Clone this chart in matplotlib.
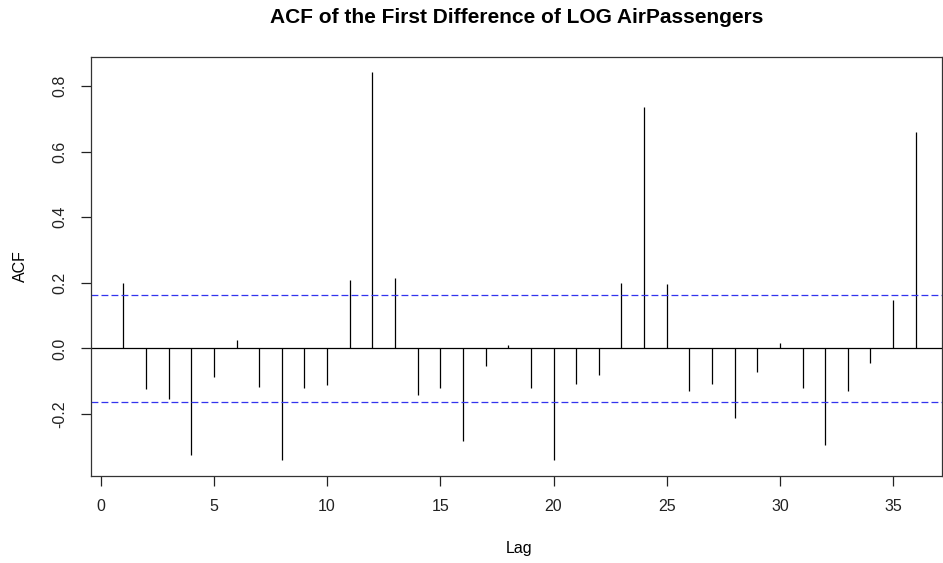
# ACF plot of the first difference of log AirPassengers, R style
import matplotlib.pyplot as plt

# lags 1..36 and the autocorrelation
lags = list(range(1, 37))
acf = [0.200, -0.123, -0.155, -0.324, -0.087, 0.027, -0.117, -0.341, -0.120, -0.113,
       0.207, 0.841, 0.216, -0.142, -0.120, -0.282, -0.054, 0.011, -0.120, -0.341,
       -0.110, -0.080, 0.200, 0.737, 0.196, -0.129, -0.107, -0.213, -0.071, 0.015,
       -0.120, -0.293, -0.129, -0.044, 0.147, 0.659]
conf_band = 0.1635
x_ticks = [0, 5, 10, 15, 20, 25, 30, 35]
y_ticks = [-0.2, 0.0, 0.2, 0.4, 0.6, 0.8]

plt.rcParams['font.family'] = ['Liberation Sans', 'DejaVu Sans']

W, H = 943, 563
fig = plt.figure(figsize=(W / 100, H / 100), dpi=100)
ax = fig.add_axes([91 / W, 1 - 475.7 / H, (942 - 91) / W, (475.7 - 56.7) / H])

# the spikes
ax.vlines(lags, 0, acf, color='black', linewidth=0.9)
ax.axhline(0, color='black', linewidth=0.9)

# confidence bounds
for b in (conf_band, -conf_band):
    ln = ax.axhline(b, color='#3333ee', linewidth=0.9)
    ln.set_dashes([5.5, 2.5])

ax.set_xlim(-0.43, 37.16)
ax.set_ylim(-0.388, 0.889)

ax.set_xticks(x_ticks)
ax.set_xticklabels([str(t) for t in x_ticks])
ax.set_yticks(y_ticks)
ax.set_yticklabels(['%.1f' % t for t in y_ticks], rotation=90, va='center')

ax.tick_params(direction='out', length=7, width=0.9, colors='#222222',
               labelsize=11.5, pad=10)
for s in ax.spines.values():
    s.set_color('#333333')
    s.set_linewidth(0.9)

ax.set_title('ACF of the First Difference of LOG AirPassengers',
             fontsize=15, fontweight='bold', pad=24)
fig.text(519 / W, 1 - 553 / H, 'Lag', ha='center', va='baseline', fontsize=11.5)
fig.text(20 / W, 1 - 266 / H, 'ACF', ha='center', va='center', rotation=90,
         fontsize=11.5)

fig.savefig('out.png', dpi=100)
